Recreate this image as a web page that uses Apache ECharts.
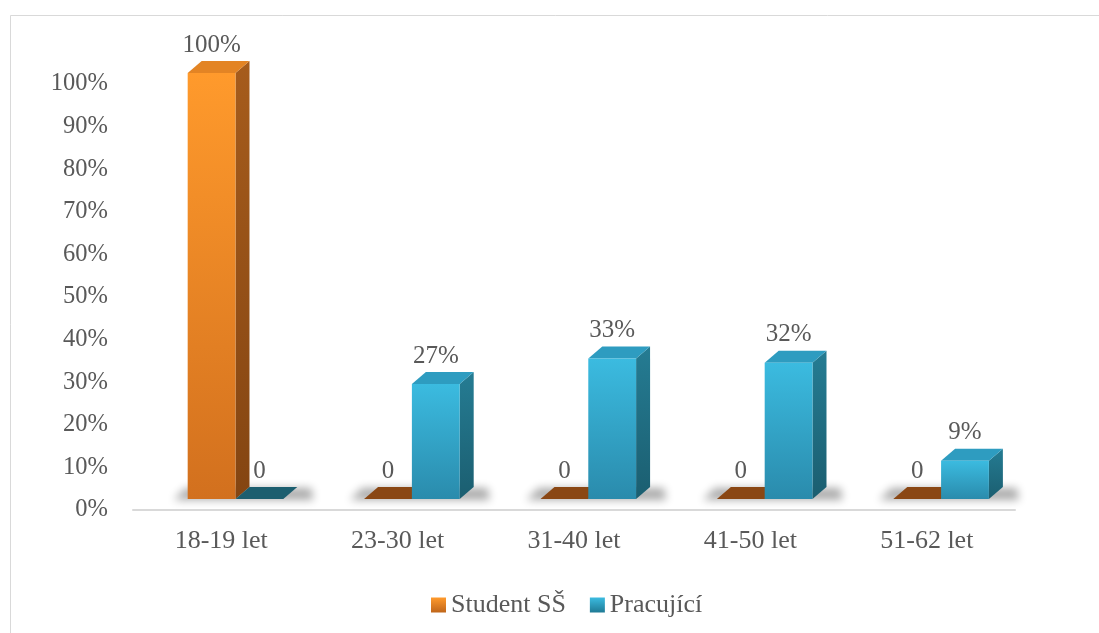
<!DOCTYPE html>
<html>
<head>
<meta charset="utf-8">
<script src="https://cdn.jsdelivr.net/npm/echarts@6/dist/echarts.min.js"></script>
<style>html,body{margin:0;padding:0;background:#fff;}#c{width:1099px;height:633px;}</style>
</head>
<body>
<div id="c"></div>
<script>
const categories = ['18-19 let', '23-30 let', '31-40 let', '41-50 let', '51-62 let'];
const studentSS = [100, 0, 0, 0, 0];
const pracujici = [0, 27, 33, 32, 9];
const seriesNames = ['Student SŠ', 'Pracující'];
const yTicks = [0, 10, 20, 30, 40, 50, 60, 70, 80, 90, 100];

const FONT = '"Liberation Serif", "Times New Roman", serif';
const TXT = '#595959';
const DX = 14, DY = 12, LIFT = 11;

const palettes = [
  {front: ['#FF9A2C', '#D2701E'], side: ['#A65C1C', '#844512'], top: '#E38424', flat: '#8A4714'},
  {front: ['#3BBBE0', '#2A8BAC'], side: ['#257C93', '#1B5E70'], top: '#2E9CC0', flat: '#1C5E6F'}
];

function lg(c1, c2) {
  return new echarts.graphic.LinearGradient(0, 0, 0, 1, [{offset: 0, color: c1}, {offset: 1, color: c2}]);
}

function makeRender(sIdx) {
  return function (params, api) {
    const idx = api.value(0), v = api.value(1);
    const base = api.coord([idx, 0]);
    const top = api.coord([idx, v]);
    const band = api.size([1, 0])[0];
    const w = band * 0.271;
    const pairLeft = base[0] - band * 0.19;
    const x0 = pairLeft + sIdx * w;
    const yB = base[1] - LIFT;
    const yT = top[1] - LIFT;
    const p = palettes[sIdx];
    const children = [];
    if (sIdx === 0) {
      const L = pairLeft - 14, R = pairLeft + 2 * w + DX + 16;
      const S = 3000;
      children.push({
        type: 'polygon',
        shape: {points: [[L - S, yB + 1], [R - S, yB + 1], [R - S - 2, yB - DY + 1], [L - S + 12, yB - DY + 1]]},
        style: {fill: 'rgba(0,0,0,0.6)', shadowBlur: 9, shadowColor: 'rgba(0,0,0,0.55)', shadowOffsetX: S, shadowOffsetY: 0},
        z2: 0
      });
    }
    const lbl = v === 0 ? '0' : v + '%';
    if (v === 0) {
      children.push({
        type: 'polygon',
        shape: {points: [[x0, yB], [x0 + DX, yB - DY], [x0 + w + DX, yB - DY], [x0 + w, yB]]},
        style: {fill: p.flat},
        z2: 5
      });
    } else {
      children.push({
        type: 'polygon',
        shape: {points: [[x0 + w, yB], [x0 + w + DX, yB - DY], [x0 + w + DX, yT - DY], [x0 + w, yT]]},
        style: {fill: lg(p.side[0], p.side[1])},
        z2: 5
      });
      children.push({
        type: 'polygon',
        shape: {points: [[x0, yT], [x0 + DX, yT - DY], [x0 + w + DX, yT - DY], [x0 + w, yT]]},
        style: {fill: p.top},
        z2: 6
      });
      children.push({
        type: 'rect',
        shape: {x: x0, y: yT, width: w, height: yB - yT},
        style: {fill: lg(p.front[0], p.front[1])},
        z2: 7
      });
    }
    children.push({
      type: 'text',
      style: {text: lbl, x: x0 + w / 2, y: yT - DY - 16, align: 'center', verticalAlign: 'middle',
              font: '25px ' + FONT, fill: TXT},
      z2: 10
    });
    return {type: 'group', children: children};
  };
}

const chart = echarts.init(document.getElementById('c'));
chart.setOption({
  animation: false,
  backgroundColor: '#ffffff',
  graphic: [{
    type: 'rect', left: 8, top: 13, shape: {width: 1300, height: 800},
    style: {fill: 'none', stroke: '#d9d9d9', lineWidth: 1}, silent: true, z: -10
  }],
  grid: {left: 133, right: 84, top: 84, bottom: 123},
  legend: {
    left: 426, top: 587, itemWidth: 15, itemHeight: 15, itemGap: 24,
    icon: 'rect',
    textStyle: {fontFamily: FONT, fontSize: 26, color: TXT},
    data: seriesNames
  },
  xAxis: {
    type: 'category', data: categories,
    axisLine: {lineStyle: {color: '#d9d9d9', width: 2}},
    axisTick: {show: false},
    axisLabel: {fontFamily: FONT, fontSize: 26, color: TXT, margin: 18},
    splitLine: {show: false}
  },
  yAxis: {
    type: 'value', min: yTicks[0], max: yTicks[yTicks.length - 1], interval: 10,
    axisLine: {show: false}, axisTick: {show: false}, splitLine: {show: false},
    axisLabel: {fontFamily: FONT, fontSize: 24.5, color: TXT, margin: 25, formatter: '{value}%'}
  },
  series: [
    {
      name: seriesNames[0], type: 'custom', renderItem: makeRender(0),
      itemStyle: {color: lg('#FF9A2C', '#C0661A')},
      encode: {x: 0, y: 1},
      data: categories.map((c, i) => [i, studentSS[i]])
    },
    {
      name: seriesNames[1], type: 'custom', renderItem: makeRender(1),
      itemStyle: {color: lg('#3BBBE0', '#1F7A95')},
      encode: {x: 0, y: 1},
      data: categories.map((c, i) => [i, pracujici[i]])
    }
  ]
});
</script>
</body>
</html>
